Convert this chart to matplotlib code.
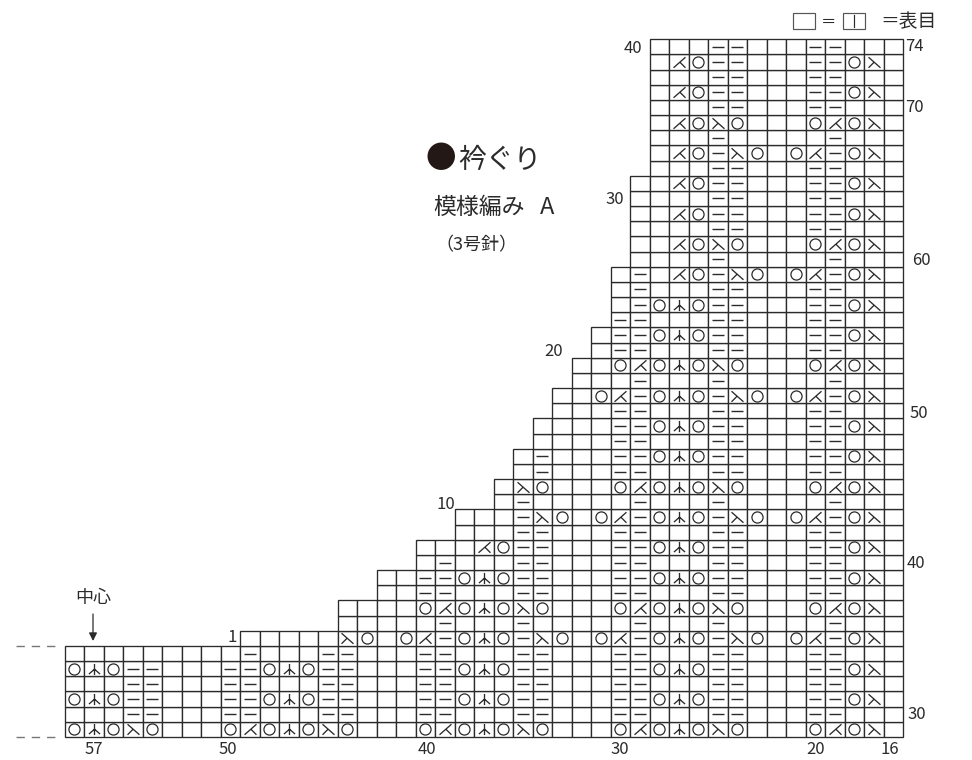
#!/usr/bin/env python3
# -*- coding: utf-8 -*-
import matplotlib
matplotlib.use('Agg')
import matplotlib.pyplot as plt
from matplotlib.patches import Rectangle
from matplotlib.path import Path

plt.rcParams['font.family'] = ['Noto Sans CJK JP', 'DejaVu Sans']

# chart rows, bottom row of the chart first
# . knit  - purl  o yarn over  r right lean  l left lean  a centre double decrease
row_numbers = list(range(29, 75))
row_first_col = [0, 0, 0, 0, 0, 0, 9, 14, 14, 16, 16, 18, 18, 20, 20, 22, 22, 23, 23,
                 24, 24, 25, 25, 26, 26, 27, 27, 28, 28, 28, 28, 29, 29, 29, 29, 29, 29,
                 30, 30, 30, 30, 30, 30, 30, 30, 30]
row_cells = [
    "oaoro...oloaoro...oloaoro...oloaoro...olor.",  # 29
    "...--...--...--...--...--...--...--...--...",
    "oao--...--oao--...--oao--...--oao--...--or.",
    "...--...--...--...--...--...--...--...--...",
    "oao--...--oao--...--oao--...--oao--...--or.",
    ".........-...--...--...--...--...--...--...",
    ".....ro.ol-oao-ro.ol-oao-ro.ol-or.",  # 35
    ".....-...-.....-...-.....-...",
    "....oloaoro...oloaoro...olor.",
    "..--...--...--...--...--...",
    "..--oao--...--oao--...--or.",
    ".-...--...--...--...--...",  # 40
    "...lo--...--oao--...--or.",
    "...--...--...--...--...",
    "...-ro.ol-oao-ro.ol-or.",
    ".-.....-...-.....-...",
    ".ro...oloaoro...olor.",  # 45
    ".-...--...--...--...",
    ".-...--oao--...--or.",
    "....--...--...--...",
    "....--oao--...--or.",
    "...--...--...--...",  # 50
    "..ol-oao-ro.ol-or.",
    "...-...-.....-...",
    "..oloaoro...olor.",
    ".--...--...--...",
    ".--oao--...--or.",  # 55
    "--...--...--...",
    ".-oao--...--or.",
    ".-...--...--...",
    ".-.lo-ro.ol-or.",
    "....-.....-...",  # 60
    "..loro...olor.",
    "....--...--...",
    "..lo--...--or.",
    "....--...--...",
    "..lo--...--or.",  # 65
    "...--...--...",
    ".lo-ro.ol-or.",
    "...-.....-...",
    ".loro...olor.",
    "...--...--...",  # 70
    ".lo--...--or.",
    "...--...--...",
    ".lo--...--or.",
    "...--...--...",  # 74
]

right_labels = [30, 40, 50, 60, 70, 74]
right_label_rows = [30.0, 39.95, 49.8, 59.9, 70.0, 74.0]
right_label_x = [907, 907, 910, 912, 905, 905]
bottom_labels = [57, 50, 40, 30, 20, 16]
bottom_label_cols = [1.5, 8.4, 18.6, 28.5, 38.5, 42.33]
left_labels = [1, 10, 20, 30, 40]
left_label_rows = [34.93, 43.73, 53.8, 63.83, 73.76]
left_label_cols = [8.85, 20.05, 25.55, 28.7, 29.65]

W, H = 972, 760
X0, CW = 64.5, 19.5
Y0, CH = 737.0, 15.17
INK = '#2b2b2b'


def fx(px):
    return px / W


def fy(py):
    return 1 - py / H


fig = plt.figure(figsize=(W / 100, H / 100), dpi=100)
ax = fig.add_axes([0, 0, 1, 1])
ax.set_xlim(-X0 / CW, (W - X0) / CW)
ax.set_ylim(29 + (Y0 - H) / CH, 29 + Y0 / CH)
ax.axis('off')

lean_r = Path([(-0.85, 0.75), (0.85, -0.75), (-0.05, 0.05), (-0.85, -0.75)],
              [Path.MOVETO, Path.LINETO, Path.MOVETO, Path.LINETO])
lean_l = Path([(0.85, 0.75), (-0.85, -0.75), (0.05, 0.05), (0.85, -0.75)],
              [Path.MOVETO, Path.LINETO, Path.MOVETO, Path.LINETO])
centre = Path([(0, 0.85), (0, -0.85), (0, 0.05), (-0.85, -0.7), (0, 0.05), (0.85, -0.7)],
              [Path.MOVETO, Path.LINETO, Path.MOVETO, Path.LINETO, Path.MOVETO, Path.LINETO])

symbols = {
    '-': dict(marker='_', ms=8.8, mew=1.0),
    'o': dict(marker='o', ms=8.0, mew=0.9),
    'r': dict(marker=lean_r, ms=8.6, mew=0.95),
    'l': dict(marker=lean_l, ms=8.6, mew=0.95),
    'a': dict(marker=centre, ms=8.0, mew=0.95),
}

points = {k: ([], []) for k in symbols}
for row, first, cells in zip(row_numbers, row_first_col, row_cells):
    assert first + len(cells) == 43, row
    for i, ch in enumerate(cells):
        col = first + i
        ax.add_patch(Rectangle((col, row), 1, 1, fc='white', ec=INK, lw=0.95))
        if ch in points:
            points[ch][0].append(col + 0.5)
            points[ch][1].append(row + 0.5)

for ch, (xs, ys) in points.items():
    ax.plot(xs, ys, ls='', color=INK, mfc='none', mec=INK, **symbols[ch])

# number labels
for lab, r, px in zip(right_labels, right_label_rows, right_label_x):
    ax.text((px - X0) / CW, r + 0.5, str(lab), fontsize=12, color=INK, ha='left', va='center')
for lab, c in zip(bottom_labels, bottom_label_cols):
    dy = 749 if lab == 57 else 750
    ax.text(c, 29 + (Y0 - dy) / CH, str(lab), fontsize=12, color=INK, ha='center', va='center')
for lab, r, c in zip(left_labels, left_label_rows, left_label_cols):
    ax.text(c, r + 0.6, str(lab), fontsize=12, color=INK, ha='right', va='center')

# dashes at the cut edge on the left
for py in (645.7, 737):
    fig.add_artist(plt.Line2D([fx(16), fx(57)], [fy(py), fy(py)], color='#777777', lw=1,
                              ls=(0, (6, 5))))

# centre arrow
fig.text(fx(93), fy(598), '中心', fontsize=13, color=INK, ha='center', va='center')
ax.annotate('', xy=(fx(93), fy(641)), xytext=(fx(93), fy(614)), xycoords='figure fraction',
            textcoords='figure fraction', arrowprops=dict(arrowstyle='-|>', color=INK, lw=0.9,
                                                          shrinkA=0, shrinkB=0, mutation_scale=12))

# title block
fig.text(fx(441), fy(160), '●', fontsize=22, color='#231815', ha='center', va='center')
fig.text(fx(458), fy(160), '衿ぐり', fontsize=20, color=INK, ha='left', va='center')
fig.text(fx(433), fy(207), '模様編み', fontsize=16.5, color=INK, ha='left', va='center')
fig.text(fx(540), fy(207), 'A', fontsize=17, color=INK, ha='left', va='center')
fig.text(fx(435), fy(245), '（3号針）', fontsize=13, color=INK, ha='left', va='center')

# key at the top right
for x0 in (793, 843):
    fig.add_artist(Rectangle((fx(x0), fy(29)), 22 / W, 16 / H, transform=fig.transFigure,
                             fc='white', ec='#555555', lw=0.85))
fig.add_artist(plt.Line2D([fx(854), fx(854)], [fy(15), fy(27)], color=INK, lw=0.85))
fig.text(fx(821), fy(22), '＝', fontsize=11, color=INK, ha='left', va='center')
fig.text(fx(880), fy(22), '＝表目', fontsize=13.5, color=INK, ha='left', va='center')

fig.savefig('out.png', dpi=100)
